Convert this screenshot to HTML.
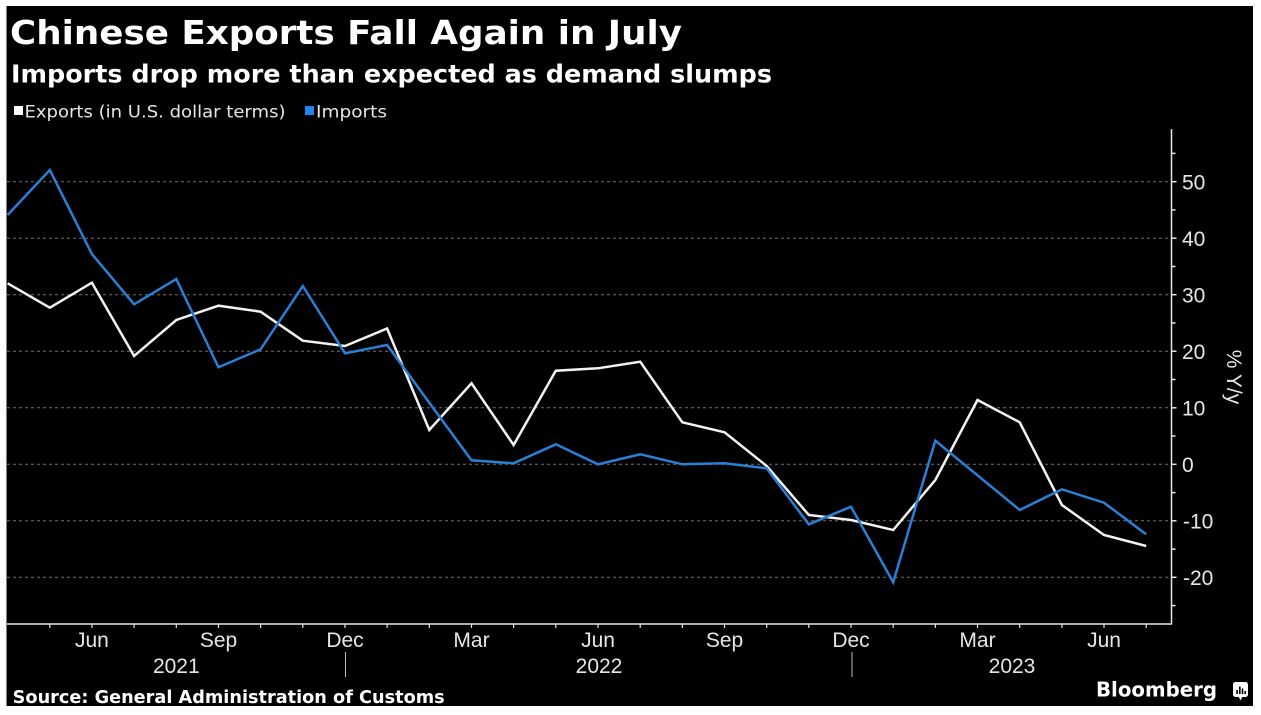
<!DOCTYPE html>
<html>
<head>
<meta charset="utf-8">
<style>
  html, body { margin: 0; padding: 0; background: #ffffff; }
  svg { display: block; }
  .ax { font-family: "Liberation Sans", "DejaVu Sans", sans-serif; font-size: 21px; fill: #e6e6e6; }
</style>
</head>
<body>
<svg width="1261" height="715" viewBox="0 0 1261 715" xmlns="http://www.w3.org/2000/svg">
  <!-- black panel -->
  <rect x="6.5" y="6" width="1246.5" height="700" fill="#000000"/>

  <!-- title -->
  <text x="10" y="44" font-family="DejaVu Sans, Liberation Sans, sans-serif" font-weight="bold" font-size="33" fill="#ffffff" textLength="672" lengthAdjust="spacingAndGlyphs">Chinese Exports Fall Again in July</text>
  <text x="11" y="82.5" font-family="DejaVu Sans, Liberation Sans, sans-serif" font-weight="bold" font-size="25" fill="#ffffff" textLength="761" lengthAdjust="spacingAndGlyphs">Imports drop more than expected as demand slumps</text>

  <!-- legend -->
  <rect x="14" y="106" width="9" height="9" fill="#ffffff"/>
  <text x="24.5" y="117.3" font-family="DejaVu Sans, Liberation Sans, sans-serif" font-size="16.5" fill="#e6e6e6" textLength="261" lengthAdjust="spacingAndGlyphs">Exports (in U.S. dollar terms)</text>
  <rect x="305" y="106" width="9" height="9" fill="#1e88f0"/>
  <text x="316" y="117.3" font-family="DejaVu Sans, Liberation Sans, sans-serif" font-size="16.5" fill="#e6e6e6" textLength="71" lengthAdjust="spacingAndGlyphs">Imports</text>

  <!-- gridlines -->
  <g stroke="#707070" stroke-width="1" stroke-dasharray="3,3">
    <line x1="7" y1="181.7" x2="1168" y2="181.7"/>
    <line x1="7" y1="238.2" x2="1168" y2="238.2"/>
    <line x1="7" y1="294.7" x2="1168" y2="294.7"/>
    <line x1="7" y1="351.2" x2="1168" y2="351.2"/>
    <line x1="7" y1="407.8" x2="1168" y2="407.8"/>
    <line x1="7" y1="464.3" x2="1168" y2="464.3"/>
    <line x1="7" y1="520.8" x2="1168" y2="520.8"/>
    <line x1="7" y1="577.3" x2="1168" y2="577.3"/>
  </g>

  <!-- y axis -->
  <g stroke="#e6e6e6" stroke-width="1.5">
    <line x1="1171.5" y1="129" x2="1171.5" y2="624.5"/>
    <line x1="1171" y1="181.7" x2="1176.5" y2="181.7"/>
    <line x1="1171" y1="238.2" x2="1176.5" y2="238.2"/>
    <line x1="1171" y1="294.7" x2="1176.5" y2="294.7"/>
    <line x1="1171" y1="351.2" x2="1176.5" y2="351.2"/>
    <line x1="1171" y1="407.8" x2="1176.5" y2="407.8"/>
    <line x1="1171" y1="464.3" x2="1176.5" y2="464.3"/>
    <line x1="1171" y1="520.8" x2="1176.5" y2="520.8"/>
    <line x1="1171" y1="577.3" x2="1176.5" y2="577.3"/>
    <line x1="1171" y1="153.4" x2="1175.5" y2="153.4"/>
    <line x1="1171" y1="209.9" x2="1175.5" y2="209.9"/>
    <line x1="1171" y1="266.5" x2="1175.5" y2="266.5"/>
    <line x1="1171" y1="323" x2="1175.5" y2="323"/>
    <line x1="1171" y1="379.5" x2="1175.5" y2="379.5"/>
    <line x1="1171" y1="436" x2="1175.5" y2="436"/>
    <line x1="1171" y1="492.6" x2="1175.5" y2="492.6"/>
    <line x1="1171" y1="549.1" x2="1175.5" y2="549.1"/>
    <line x1="1171" y1="605.6" x2="1175.5" y2="605.6"/>
  </g>
  <g class="ax">
    <text x="1182" y="189.3">50</text>
    <text x="1182" y="245.8">40</text>
    <text x="1182" y="302.3">30</text>
    <text x="1182" y="358.8">20</text>
    <text x="1182" y="415.4">10</text>
    <text x="1182" y="471.9">0</text>
    <text x="1183" y="528.4">-10</text>
    <text x="1183" y="584.9">-20</text>
  </g>
  <text class="ax" transform="translate(1227,377) rotate(90)" text-anchor="middle" font-size="21">% Y/y</text>

  <!-- x axis -->
  <g stroke="#e6e6e6" stroke-width="1.5">
    <line x1="7" y1="624" x2="1172" y2="624"/>
  </g>
  <g stroke="#e6e6e6" stroke-width="1.2">
    <line x1="49.8" y1="624" x2="49.8" y2="628"/>
    <line x1="91.9" y1="624" x2="91.9" y2="628"/>
    <line x1="134.1" y1="624" x2="134.1" y2="628"/>
    <line x1="176.3" y1="624" x2="176.3" y2="628"/>
    <line x1="218.5" y1="624" x2="218.5" y2="628"/>
    <line x1="260.6" y1="624" x2="260.6" y2="628"/>
    <line x1="302.8" y1="624" x2="302.8" y2="628"/>
    <line x1="345" y1="624" x2="345" y2="628"/>
    <line x1="387.1" y1="624" x2="387.1" y2="628"/>
    <line x1="429.3" y1="624" x2="429.3" y2="628"/>
    <line x1="471.5" y1="624" x2="471.5" y2="628"/>
    <line x1="513.6" y1="624" x2="513.6" y2="628"/>
    <line x1="555.8" y1="624" x2="555.8" y2="628"/>
    <line x1="598" y1="624" x2="598" y2="628"/>
    <line x1="640.2" y1="624" x2="640.2" y2="628"/>
    <line x1="682.3" y1="624" x2="682.3" y2="628"/>
    <line x1="724.5" y1="624" x2="724.5" y2="628"/>
    <line x1="766.7" y1="624" x2="766.7" y2="628"/>
    <line x1="808.8" y1="624" x2="808.8" y2="628"/>
    <line x1="851" y1="624" x2="851" y2="628"/>
    <line x1="893.2" y1="624" x2="893.2" y2="628"/>
    <line x1="935.3" y1="624" x2="935.3" y2="628"/>
    <line x1="977.5" y1="624" x2="977.5" y2="628"/>
    <line x1="1019.7" y1="624" x2="1019.7" y2="628"/>
    <line x1="1061.9" y1="624" x2="1061.9" y2="628"/>
    <line x1="1104" y1="624" x2="1104" y2="628"/>
    <line x1="1146.2" y1="624" x2="1146.2" y2="628"/>
  </g>
  <g class="ax" text-anchor="middle">
    <text x="91.9" y="647">Jun</text>
    <text x="218.5" y="647">Sep</text>
    <text x="345" y="647">Dec</text>
    <text x="471.5" y="647">Mar</text>
    <text x="598" y="647">Jun</text>
    <text x="724.5" y="647">Sep</text>
    <text x="851" y="647">Dec</text>
    <text x="977.5" y="647">Mar</text>
    <text x="1104" y="647">Jun</text>
    <text x="176.3" y="673">2021</text>
    <text x="599" y="673">2022</text>
    <text x="1012" y="673">2023</text>
  </g>
  <g stroke="#bdbdbd" stroke-width="1">
    <line x1="345.5" y1="652" x2="345.5" y2="677"/>
    <line x1="852" y1="652" x2="852" y2="677"/>
  </g>

  <!-- series -->
  <polyline fill="none" stroke="#f2f2f2" stroke-width="2.5" stroke-linejoin="miter"
    points="7.6,283.3 49.8,307.7 91.9,282.7 134.1,356 176.3,320 218.5,305.7 260.6,311.7 302.8,340.7 345,346 387.1,328.5 429.3,430 471.5,383.3 513.6,445 555.8,370.7 598,368.3 640.2,361.7 682.3,422.3 724.5,432.3 766.7,466 808.8,515 851,520 893.2,530 935.3,480 977.5,400 1019.7,422.3 1061.9,505 1104,535 1146.2,546"/>
  <polyline fill="none" stroke="#2a7fd6" stroke-width="2.5" stroke-linejoin="miter"
    points="7.6,215 49.8,170 91.9,254 134.1,304.3 176.3,279 218.5,367.3 260.6,349.3 302.8,286 345,353.3 387.1,345 429.3,402.7 471.5,460.3 513.6,463.3 555.8,444.3 598,464.3 640.2,454.3 682.3,464.3 724.5,463.3 766.7,468.3 808.8,524.3 851,506.7 893.2,582.3 935.3,440.7 977.5,475.3 1019.7,510 1061.9,489.3 1104,502.7 1146.2,534.3"/>

  <!-- footer -->
  <text x="12.7" y="703" font-family="DejaVu Sans, Liberation Sans, sans-serif" font-weight="bold" font-size="17.5" fill="#ffffff" textLength="432" lengthAdjust="spacingAndGlyphs">Source: General Administration of Customs</text>
  <text x="1096" y="696.7" font-family="DejaVu Sans, Liberation Sans, sans-serif" font-weight="bold" font-size="20.5" fill="#ffffff" textLength="121" lengthAdjust="spacingAndGlyphs">Bloomberg</text>
  <rect x="1233" y="682" width="15" height="15" rx="2.5" fill="#ffffff"/>
  <polygon points="1238.5,696.5 1242.5,696.5 1240.5,700.5" fill="#ffffff"/>
  <g fill="#000000">
    <rect x="1236.3" y="690" width="1.6" height="4"/>
    <rect x="1239" y="686.5" width="1.6" height="7.5"/>
    <rect x="1241.7" y="688.5" width="1.6" height="5.5"/>
    <rect x="1244.4" y="691" width="1.6" height="3"/>
  </g>
</svg>
</body>
</html>
